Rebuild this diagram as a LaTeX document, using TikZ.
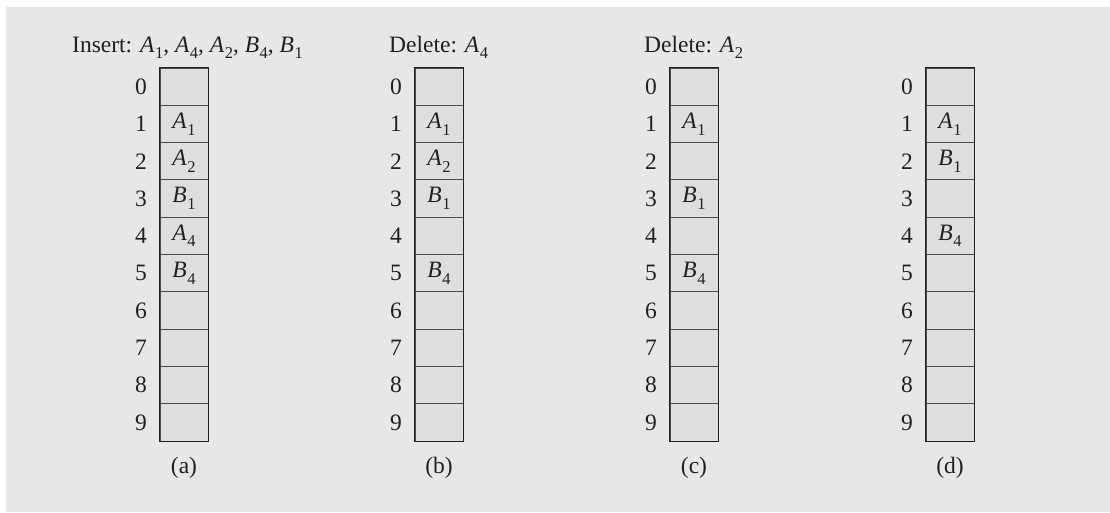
\documentclass[tikz,border=0pt]{standalone}
\usepackage{fontspec}
\setmainfont{Liberation Serif}
\definecolor{panelbg}{HTML}{E6E7E9}
\definecolor{cellbg}{HTML}{DDDEE0}
\definecolor{ink}{HTML}{231F20}
\newcommand\itsym[2]{\textit{#1}\kern0.5pt\raisebox{-0.28em}{\fontsize{16.5}{16.5}\selectfont #2}}
\tikzset{
  cellbox/.style={draw=ink!80, line width=1pt, fill=cellbg, minimum width=48pt, minimum height=37.3pt, inner sep=0pt, anchor=center, font=\fontsize{23.5}{26}\selectfont},
  idxlabel/.style={font=\fontsize{23.5}{26}\selectfont, text=ink, anchor=center},
  titletext/.style={font=\fontsize{23.5}{26}\selectfont, text=ink, anchor=base west, inner sep=0pt},
  captext/.style={font=\fontsize{23.5}{26}\selectfont, text=ink, anchor=center},
  entrytext/.style={font=\fontsize{23.5}{26}\selectfont, text=ink, anchor=center},
  outline/.style={draw=ink, line width=1.6pt}
}
\begin{document}
\begin{tikzpicture}[x=1pt,y=-1pt]
\useasboundingbox (0,0) rectangle (1110,512);
\fill[panelbg] (6,7) rectangle (1110,512);
% columns
\foreach \col/\lx/\cap in {1/160/a,2/415/b,3/670/c,4/926/d}{
  \foreach \r in {0,...,9}{
    \node[cellbox] (c\col-\r) at ({\lx+24},{68+37.3*(\r+0.5)}) {};
    \node[idxlabel] (n\col-\r) at ({\lx-19},{68+37.3*(\r+0.5)}) {\r};
  }
  \draw[outline] (c\col-0.north west) rectangle (c\col-9.south east);
  \node[captext] (cap\col) at ({\lx+24},468) {(\cap)};
}
% titles
\node[titletext] (title1) at (72,52) {Insert: \itsym{A}{1}, \itsym{A}{4}, \itsym{A}{2}, \itsym{B}{4}, \itsym{B}{1}};
\node[titletext] (title2) at (389,52) {Delete: \itsym{A}{4}};
\node[titletext] (title3) at (644,52) {Delete: \itsym{A}{2}};
% contents
\foreach \col/\r/\L/\s in {1/1/A/1,1/2/A/2,1/3/B/1,1/4/A/4,1/5/B/4,
                           2/1/A/1,2/2/A/2,2/3/B/1,2/5/B/4,
                           3/1/A/1,3/3/B/1,3/5/B/4,
                           4/1/A/1,4/2/B/1,4/4/B/4}{
  \node[entrytext] (e\col-\r) at (c\col-\r) {\itsym{\L}{\s}};
}
\end{tikzpicture}
\end{document}
